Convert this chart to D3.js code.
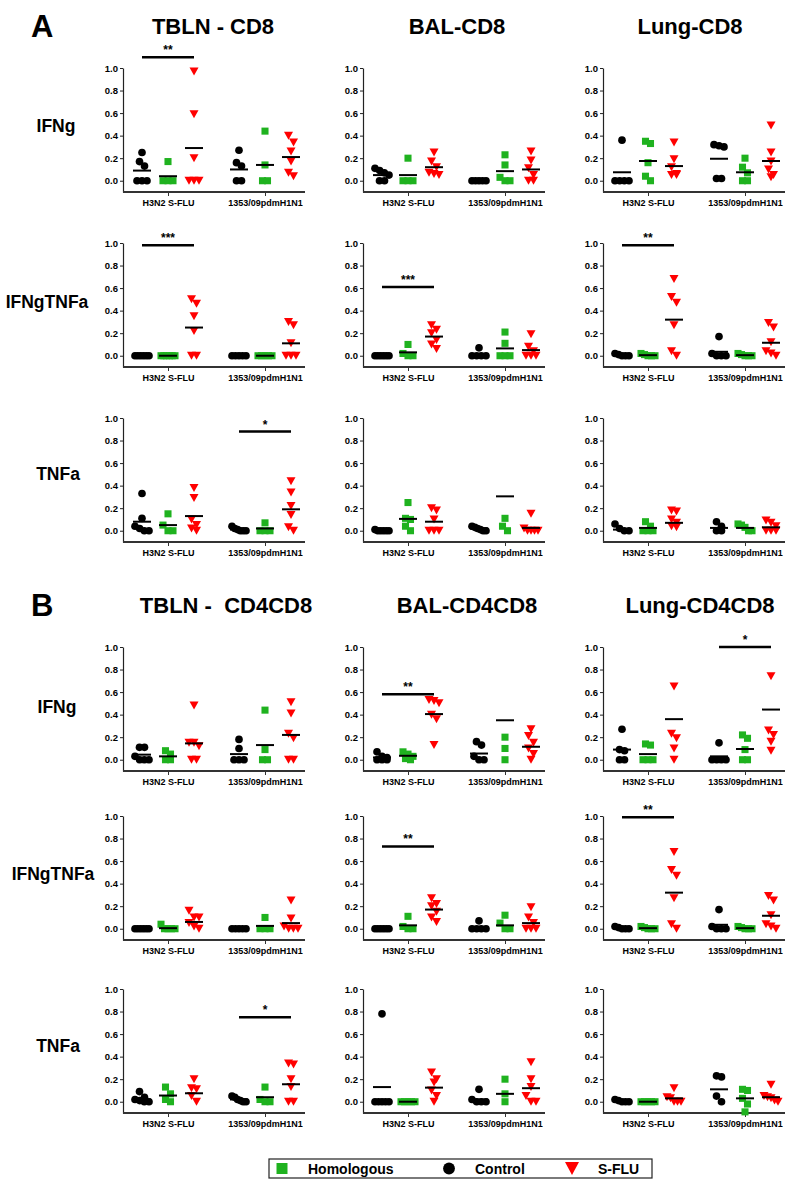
<!DOCTYPE html>
<html>
<head>
<meta charset="utf-8">
<script src="https://cdn.jsdelivr.net/npm/d3@7"></script>
<style>
body { margin: 0; background: #fff; }
text { font-family: "Liberation Sans", Arial, sans-serif; font-weight: bold; fill: #000; }
</style>
</head>
<body>
<svg id="fig" width="800" height="1195"></svg>
<script>
// categories
var groups = ["H3N2 S-FLU", "1353/09pdmH1N1"];
var series = ["Control", "Homologous", "S-FLU"];
var yTicks = [0, 0.2, 0.4, 0.6, 0.8, 1.0];
var titlesA = ["TBLN - CD8", "BAL-CD8", "Lung-CD8"];
var titlesB = ["TBLN -  CD4CD8", "BAL-CD4CD8", "Lung-CD4CD8"];
var cytokines = ["IFNg", "IFNgTNFa", "TNFa"];
var legendOrder = ["Homologous", "Control", "S-FLU"];

// each panel: [ctrl H3N2, hom H3N2, sflu H3N2, ctrl 1353, hom 1353, sflu 1353]
var aTblnIfng = [[0.25,0.17,0.13,0,0,0],[0.17,0,0,0],[0.97,0.59,0.2,0,0,0],[0.27,0.16,0.13,0,0],[0.44,0.14,0,0],[0.40,0.34,0.26,0.17,0.07,0.04]];
var aTblnIfngMean = [0.09,0.04,0.29,0.10,0.14,0.21];
var aBalIfng = [[0.11,0.09,0.07,0.05,0,0],[0.2,0,0,0],[0.25,0.17,0.12,0.07,0.06,0.05],[0,0,0,0,0],[0.23,0.14,0.03,0,0],[0.26,0.18,0.11,0.05,0,0]];
var aBalIfngMean = [0.05,0.05,0.12,0,0.085,0.10];
var aLungIfng = [[0.36,0,0,0,0],[0.35,0.33,0.16,0.04,0],[0.34,0.19,0.12,0.06,0.05,0.05],[0.32,0.31,0.30,0.02,0.02],[0.2,0.12,0.07,0,0],[0.49,0.25,0.17,0.1,0.05,0.03]];
var aLungIfngMean = [0.075,0.175,0.13,0.195,0.075,0.175];

var aTblnDbl = [[0,0,0,0,0,0],[0,0,0,0,0,0],[0.5,0.46,0.35,0.22,0,0],[0,0,0,0,0],[0,0,0,0,0],[0.30,0.27,0.11,0,0,0]];
var aTblnDblMean = [0,0,0.25,0,0,0.11];
var aBalDbl = [[0,0,0,0,0,0],[0.10,0.02,0,0],[0.27,0.23,0.2,0.14,0.1,0.06],[0.07,0,0,0,0],[0.21,0.11,0,0,0],[0.19,0.08,0.04,0,0,0]];
var aBalDblMean = [0,0.03,0.17,0.01,0.065,0.05];
var aLungDbl = [[0.02,0.01,0,0,0],[0.02,0.01,0,0,0],[0.68,0.52,0.47,0.27,0.04,0],[0.17,0.02,0,0,0],[0.02,0.01,0,0,0],[0.29,0.25,0.12,0.04,0.02,0]];
var aLungDblMean = [0.005,0.005,0.32,0.035,0.005,0.115];

var aTblnTnf = [[0.33,0.11,0.04,0.02,0,0],[0.15,0.05,0,0],[0.38,0.29,0.1,0.05,0.02,0],[0.04,0.02,0.01,0,0,0],[0.07,0,0,0],[0.44,0.34,0.22,0.14,0.03,0]];
var aTblnTnfMean = [0.08,0.05,0.13,0.01,0.02,0.19];
var aBalTnf = [[0.01,0,0,0,0,0],[0.25,0.11,0.1,0.04,0],[0.2,0.18,0.1,0,0,0],[0.04,0.03,0.02,0.01,0,0],[0.11,0.04,0],[0.15,0.02,0,0,0,0]];
var aBalTnfMean = [0,0.105,0.08,0.02,0.305,0.025];
var aLungTnf = [[0.06,0.02,0,0],[0.08,0.04,0,0,0],[0.18,0.17,0.1,0.07,0.04,0.03],[0.08,0.04,0,0],[0.06,0.05,0.03,0,0],[0.09,0.07,0.04,0,0,0]];
var aLungTnfMean = [0.01,0.025,0.07,0.025,0.025,0.03];

var bTblnIfng = [[0.11,0.11,0.03,0,0,0],[0.08,0.05,0,0],[0.48,0.15,0.15,0.12,0,0],[0.18,0.1,0,0,0],[0.44,0.09,0,0],[0.51,0.41,0.23,0.19,0,0]];
var bTblnIfngMean = [0.045,0.03,0.145,0.05,0.13,0.22];
var bBalIfng = [[0.07,0.03,0.02,0,0,0],[0.07,0.05,0.03,0.01,0],[0.53,0.52,0.5,0.4,0.36,0.13],[0.16,0.13,0.03,0,0],[0.2,0.1,0],[0.27,0.21,0.15,0.1,0.05,0]];
var bBalIfngMean = [0.02,0.035,0.405,0.055,0.35,0.115];
var bLungIfng = [[0.27,0.09,0.08,0,0],[0.14,0.13,0,0,0],[0.65,0.23,0.19,0.1,0],[0.15,0,0,0,0],[0.22,0.19,0.09,0,0],[0.74,0.26,0.22,0.16,0.08]];
var bLungIfngMean = [0.09,0.05,0.36,0.03,0.095,0.445];

var bTblnDbl = [[0,0,0,0,0,0],[0.04,0,0,0,0],[0.16,0.1,0.1,0.05,0.02,0],[0,0,0,0,0],[0.1,0,0,0],[0.25,0.09,0.02,0,0,0]];
var bTblnDblMean = [0,0.005,0.06,0,0.025,0.05];
var bBalDbl = [[0,0,0,0,0,0],[0.11,0.02,0,0],[0.27,0.22,0.2,0.15,0.1,0.06],[0.07,0,0,0,0],[0.12,0.05,0,0],[0.19,0.1,0.05,0,0,0]];
var bBalDblMean = [0,0.03,0.17,0,0.03,0.05];
var bLungDbl = [[0.02,0.01,0,0,0],[0.02,0.01,0,0,0],[0.68,0.52,0.47,0.27,0.04,0],[0.17,0.02,0,0,0],[0.02,0.01,0,0,0],[0.29,0.25,0.12,0.04,0.02,0]];
var bLungDblMean = [0.005,0.005,0.32,0.035,0.005,0.115];

var bTblnTnf = [[0.09,0.04,0.02,0.01,0,0],[0.13,0.07,0.02,0],[0.2,0.12,0.11,0.05,0],[0.05,0.04,0.02,0.01,0,0],[0.13,0.02,0,0],[0.34,0.33,0.2,0.13,0,0]];
var bTblnTnfMean = [0.02,0.055,0.075,0.02,0.04,0.155];
var bBalTnf = [[0.78,0,0,0,0,0],[0,0,0,0,0],[0.26,0.2,0.17,0.1,0.05,0],[0.11,0.02,0,0,0],[0.2,0.07,0],[0.35,0.2,0.13,0.05,0,0]];
var bBalTnfMean = [0.13,0,0.125,0.02,0.07,0.12];
var bLungTnf = [[0.02,0.01,0,0,0],[0,0,0,0,0],[0.12,0.04,0.03,0,0,0],[0.23,0.22,0.05,0],[0.11,0.1,0.03,-0.02,-0.09],[0.15,0.05,0.04,0.03,0.01,0]];
var bLungTnfMean = [0.005,0,0.03,0.11,0.03,0.04];

// significance bars: [section, column, row, group index, height, stars]
var sigBars = [
  ["A",0,0,0,1.095,"**"],
  ["A",0,1,0,0.98,"***"],
  ["A",1,1,0,0.61,"***"],
  ["A",2,1,0,0.98,"**"],
  ["A",0,2,1,0.88,"*"],
  ["B",1,0,0,0.58,"**"],
  ["B",2,0,1,1.0,"*"],
  ["B",1,1,0,0.73,"**"],
  ["B",2,1,0,0.99,"**"],
  ["B",0,2,1,0.75,"*"]
];

var colors = {"Control": "#000000", "Homologous": "#1fb21f", "S-FLU": "#ff0000"};

var panels = {
  A: [[aTblnIfng,aTblnIfngMean],[aBalIfng,aBalIfngMean],[aLungIfng,aLungIfngMean],
      [aTblnDbl,aTblnDblMean],[aBalDbl,aBalDblMean],[aLungDbl,aLungDblMean],
      [aTblnTnf,aTblnTnfMean],[aBalTnf,aBalTnfMean],[aLungTnf,aLungTnfMean]],
  B: [[bTblnIfng,bTblnIfngMean],[bBalIfng,bBalIfngMean],[bLungIfng,bLungIfngMean],
      [bTblnDbl,bTblnDblMean],[bBalDbl,bBalDblMean],[bLungDbl,bLungDblMean],
      [bTblnTnf,bTblnTnfMean],[bBalTnf,bBalTnfMean],[bLungTnf,bLungTnfMean]]
};

// layout
var colX = [123, 363, 603];
var rowTop = {A: [68, 243, 418], B: [647, 816, 989]};
var W = 182, H = 124;
var rowLabelX = {A: [56, 47, 58], B: [57, 53, 58]};
var rowLabelDy = {A: [64, 65, 62], B: [66, 64, 63]};

var svg = d3.select("#fig");
var y = d3.scaleLinear().domain([-0.1, 1.0]).range([H, 0]);
var xg = d3.scalePoint().domain(groups).range([45, 142]);
var xs = d3.scalePoint().domain(series).range([-26, 26]);

var triPath = "M-4.5,-4L4.5,-4L0,4Z";
function marker(sel, name) {
  if (name == "Control") sel.attr("d", d3.symbol(d3.symbolCircle, 46)());
  else if (name == "Homologous") sel.attr("d", d3.symbol(d3.symbolSquare, 50)());
  else sel.attr("d", triPath);
  sel.attr("fill", colors[name]);
}

// spread points that sit at about the same height
function spread(vals) {
  var sorted = vals.slice().sort(function(a, b) { return b - a; });
  var out = [], cl = [];
  function flush() {
    var n = cl.length, w = Math.min((n - 1) * 5, 14);
    cl.forEach(function(v, i) { out.push({v: v, dx: n > 1 ? -w / 2 + w * i / (n - 1) : 0}); });
    cl = [];
  }
  sorted.forEach(function(v) {
    if (cl.length && cl[0] - v > 0.06) flush();
    cl.push(v);
  });
  flush();
  return out;
}

["A", "B"].forEach(function(sec) {
  var titles = sec == "A" ? titlesA : titlesB;
  var titleX = sec == "A" ? [213, 457, 690] : [226, 467, 700];
  var top0 = rowTop[sec][0];
  svg.append("text").attr("x", 31).attr("y", top0 - 31)
    .style("font-size", "31px").text(sec);
  titles.forEach(function(t, c) {
    svg.append("text").attr("x", titleX[c]).attr("y", top0 - 34)
      .attr("text-anchor", "middle").style("font-size", "22px")
      .style("white-space", "pre").text(t);
  });

  cytokines.forEach(function(cy, r) {
    svg.append("text").attr("x", rowLabelX[sec][r]).attr("y", rowTop[sec][r] + rowLabelDy[sec][r])
      .attr("text-anchor", "middle").style("font-size", "17.5px").text(cy);

    for (var c = 0; c < 3; c++) {
      var pd = panels[sec][r * 3 + c];
      var pts = pd[0], means = pd[1];
      var g = svg.append("g").attr("transform", "translate(" + colX[c] + "," + rowTop[sec][r] + ")");

      var ya = g.append("g").call(d3.axisLeft(y).tickValues(yTicks).tickFormat(d3.format(".1f"))
        .tickSize(3).tickSizeOuter(0).tickPadding(2));
      ya.select(".domain").attr("stroke", "#222").attr("stroke-width", 1.2);
      ya.selectAll("text").style("font-size", "9.5px").attr("fill", "#000");
      ya.selectAll(".tick line").attr("stroke", "#222");

      var xa = g.append("g").attr("transform", "translate(0," + H + ")")
        .call(d3.axisBottom(xg).tickSize(4).tickSizeOuter(0).tickPadding(4));
      xa.select(".domain").remove();
      xa.append("line").attr("x1", 0).attr("x2", W).attr("stroke", "#333").attr("stroke-width", 2);
      xa.selectAll("text").style("font-size", "9px").attr("fill", "#000");
      xa.selectAll(".tick line").attr("stroke", "#333");

      groups.forEach(function(grp, gi) {
        series.forEach(function(s, si) {
          var k = gi * 3 + si;
          var cx = xg(grp) + xs(s);
          g.selectAll(null).data(spread(pts[k])).enter().append("path")
            .attr("transform", function(d) { return "translate(" + (cx + d.dx) + "," + y(d.v) + ")"; })
            .call(marker, s);
          g.append("line").attr("x1", cx - 9).attr("x2", cx + 9)
            .attr("y1", y(means[k])).attr("y2", y(means[k]))
            .attr("stroke", "#000").attr("stroke-width", 2);
        });
      });

      sigBars.filter(function(b) { return b[0] == sec && b[1] == c && b[2] == r; }).forEach(function(b) {
        var grp = groups[b[3]];
        var x1 = xg(grp) + xs("Control"), x2 = xg(grp) + xs("S-FLU");
        g.append("line").attr("x1", x1).attr("x2", x2).attr("y1", y(b[4])).attr("y2", y(b[4]))
          .attr("stroke", "#000").attr("stroke-width", 2.5);
        g.append("text").attr("x", (x1 + x2) / 2).attr("y", y(b[4]) - 3)
          .attr("text-anchor", "middle").style("font-size", "12px").text(b[5]);
      });
    }
  });
});

// legend
var lg = svg.append("g").attr("transform", "translate(269,1159)");
lg.append("rect").attr("width", 383).attr("height", 19).attr("fill", "none")
  .attr("stroke", "#222").attr("stroke-width", 1.2);
var legX = [0, 167, 290];
legendOrder.forEach(function(s, i) {
  var mx = legX[i] + 13;
  var p = lg.append("path").attr("transform", "translate(" + mx + ",9.5)");
  if (s == "Control") p.attr("d", d3.symbol(d3.symbolCircle, 110)()).attr("fill", colors[s]);
  else if (s == "Homologous") p.attr("d", d3.symbol(d3.symbolSquare, 121)()).attr("fill", colors[s]);
  else p.attr("d", "M-7,-6.5L7,-6.5L0,6.5Z").attr("fill", colors[s]);
  lg.append("text").attr("x", legX[i] + 39).attr("y", 15).style("font-size", "14px").text(s);
});
</script>
</body>
</html>
